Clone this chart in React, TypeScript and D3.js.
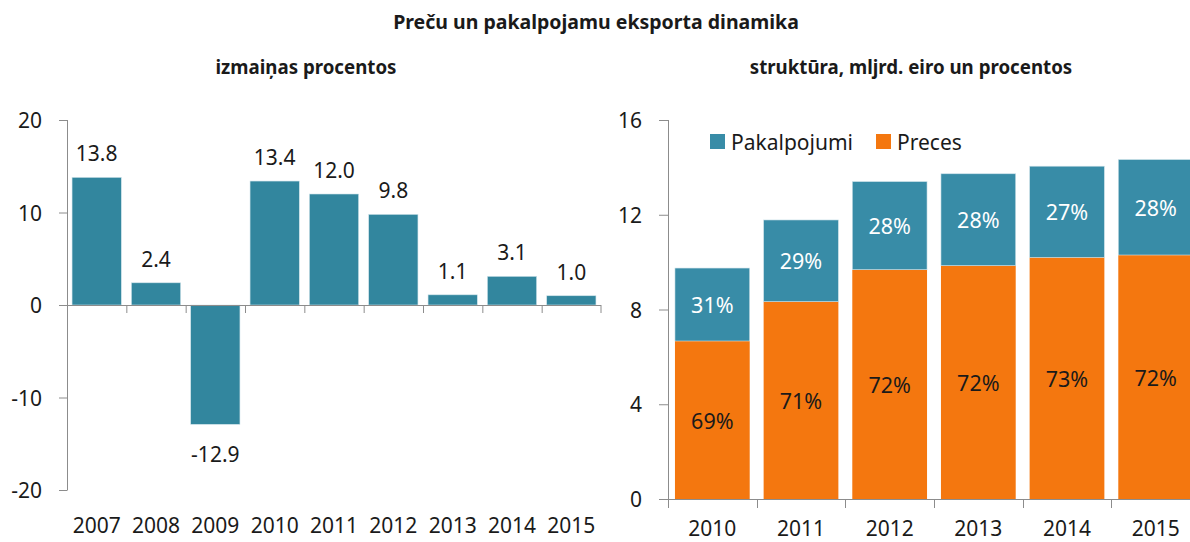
import React from "react";
import * as d3 from "d3";

const yearsLeft = ["2007", "2008", "2009", "2010", "2011", "2012", "2013", "2014", "2015"];
const growth = [13.8, 2.4, -12.9, 13.4, 12.0, 9.8, 1.1, 3.1, 1.0];
const leftTicks = [-20, -10, 0, 10, 20];

const yearsRight = ["2010", "2011", "2012", "2013", "2014", "2015"];
const preces = [6.67, 8.33, 9.68, 9.85, 10.2, 10.3];
const pakalpojumi = [3.08, 3.45, 3.72, 3.88, 3.85, 4.03];
const precesPct = ["69%", "71%", "72%", "72%", "73%", "72%"];
const pakalpPct = ["31%", "29%", "28%", "28%", "27%", "28%"];
const rightTicks = [0, 4, 8, 12, 16];

const TEAL_L = "#32869e";
const TEAL_R = "#388ca7";
const ORANGE = "#f4770f";
const AXIS = "#8c8c8c";
const TXT = "#1a1a1a";
const FONT = "'Noto Sans', 'Open Sans', sans-serif";
const FS = 21;

export default function App() {
  // Left chart scales
  const xL = d3.scaleBand<string>().domain(yearsLeft).range([67, 601]).paddingInner(0.17).paddingOuter(0.085);
  const yL = d3.scaleLinear().domain([-20, 20]).range([490, 120]);
  const stepL = xL.step();

  // Right chart scales
  const xR = d3.scaleBand<string>().domain(yearsRight).range([668, 1200]).paddingInner(0.157).paddingOuter(0.0785);
  const yR = d3.scaleLinear().domain([0, 16]).range([499, 120]);
  const stepR = xR.step();
  const axR = 668;

  return (
    <svg
      width={1190}
      height={542}
      style={{ position: "absolute", left: 0, top: 0, background: "#fff" }}
      fontFamily={FONT}
    >
      <text x={596} y={29} textAnchor="middle" fontSize={19.5} fontWeight={700} fill={TXT}>
        Preču un pakalpojamu eksporta dinamika
      </text>
      <text x={306} y={74} textAnchor="middle" fontSize={18.7} fontWeight={700} fill={TXT}>
        izmaiņas procentos
      </text>
      <text x={911} y={74} textAnchor="middle" fontSize={18.7} fontWeight={700} fill={TXT}>
        struktūra, mljrd. eiro un procentos
      </text>

      {/* Left chart */}
      <g>
        {growth.map((v, i) => {
          const yr = yearsLeft[i];
          const x = xL(yr)!;
          const top = yL(Math.max(0, v));
          const bot = yL(Math.min(0, v));
          return (
            <g key={yr}>
              <rect x={x} y={top} width={xL.bandwidth()} height={bot - top} fill={TEAL_L} stroke="#cfe3ea" strokeWidth={0.6} />
              <text
                x={x + xL.bandwidth() / 2}
                y={v >= 0 ? top - 16 : bot + 38}
                textAnchor="middle"
                fontSize={FS}
                fill={TXT}
              >
                {v.toFixed(1)}
              </text>
            </g>
          );
        })}
        <line x1={67.5} x2={67.5} y1={yL(20)} y2={yL(-20)} stroke={AXIS} strokeWidth={1} />
        {leftTicks.map((t) => (
          <g key={t}>
            <line x1={59} x2={67.5} y1={yL(t) + 0.5} y2={yL(t) + 0.5} stroke={AXIS} />
            <text x={42} y={yL(t)} textAnchor="end" dominantBaseline="central" fontSize={FS} fill={TXT}>
              {t}
            </text>
          </g>
        ))}
        <line x1={59} x2={601} y1={yL(0) + 0.5} y2={yL(0) + 0.5} stroke={AXIS} />
        {yearsLeft.map((yr, i) => (
          <line key={"t" + yr} x1={67.5 + i * stepL} x2={67.5 + i * stepL} y1={yL(0)} y2={yL(0) + 8} stroke={AXIS} />
        ))}
        <line x1={601} x2={601} y1={yL(0)} y2={yL(0) + 8} stroke={AXIS} />
        {yearsLeft.map((yr) => (
          <text key={"l" + yr} x={xL(yr)! + xL.bandwidth() / 2} y={533} textAnchor="middle" fontSize={FS} fill={TXT}>
            {yr}
          </text>
        ))}
      </g>

      {/* Right chart */}
      <g>
        {yearsRight.map((yr, i) => {
          const x = xR(yr)!;
          const bw = xR.bandwidth();
          const p0 = yR(0);
          const p1 = yR(preces[i]);
          const p2 = yR(preces[i] + pakalpojumi[i]);
          return (
            <g key={yr}>
              <rect x={x} y={p1} width={bw} height={p0 - p1} fill={ORANGE} />
              <rect x={x} y={p2} width={bw} height={p1 - p2} fill={TEAL_R} stroke="#cfe3ea" strokeWidth={0.6} />
              <text x={x + bw / 2} y={(p0 + p1) / 2} textAnchor="middle" dominantBaseline="central" fontSize={21.5} fill={TXT}>
                {precesPct[i]}
              </text>
              <text x={x + bw / 2} y={(p1 + p2) / 2} textAnchor="middle" dominantBaseline="central" fontSize={21.5} fill="#fff">
                {pakalpPct[i]}
              </text>
            </g>
          );
        })}
        <line x1={axR + 0.5} x2={axR + 0.5} y1={yR(16)} y2={yR(0)} stroke={AXIS} />
        {rightTicks.map((t) => (
          <g key={t}>
            <line x1={axR - 9} x2={axR + 0.5} y1={yR(t) + 0.5} y2={yR(t) + 0.5} stroke={AXIS} />
            <text x={642} y={yR(t)} textAnchor="end" dominantBaseline="central" fontSize={FS} fill={TXT}>
              {t}
            </text>
          </g>
        ))}
        <line x1={axR} x2={1190} y1={yR(0) + 0.5} y2={yR(0) + 0.5} stroke={AXIS} />
        {yearsRight.map((yr) => {
          const tx = Math.round(xR(yr)! - (stepR - xR.bandwidth()) / 2) + 0.5;
          return <line key={"t" + yr} x1={tx} x2={tx} y1={yR(0)} y2={yR(0) + 9} stroke={AXIS} />;
        })}
        {yearsRight.map((yr) => (
          <text key={"l" + yr} x={xR(yr)! + xR.bandwidth() / 2} y={536} textAnchor="middle" fontSize={FS} fill={TXT}>
            {yr}
          </text>
        ))}

        {/* Legend */}
        <rect x={710} y={134} width={15} height={15} fill={TEAL_R} />
        <text x={731} y={142} dominantBaseline="central" fontSize={FS} fill={TXT}>Pakalpojumi</text>
        <rect x={876} y={134} width={15} height={15} fill={ORANGE} />
        <text x={897} y={142} dominantBaseline="central" fontSize={FS} fill={TXT}>Preces</text>
      </g>
    </svg>
  );
}
